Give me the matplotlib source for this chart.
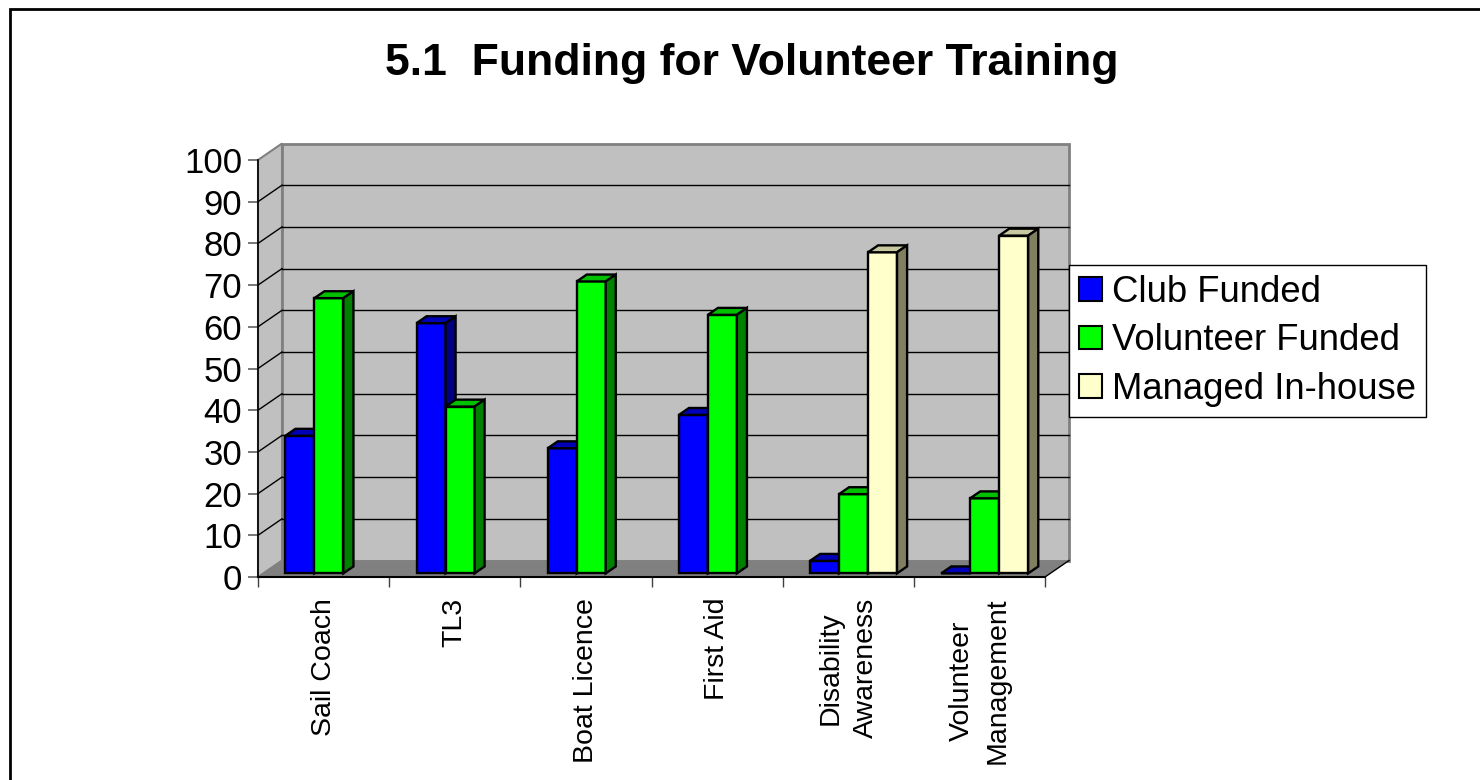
import numpy as np
import matplotlib
matplotlib.use('Agg')
import matplotlib.pyplot as plt
from matplotlib.patches import Polygon, Rectangle, Patch

# ---- data ----
categories = ['Sail Coach', 'TL3', 'Boat Licence', 'First Aid',
              'Disability\nAwareness', 'Volunteer\nManagement']
series_names = ['Club Funded', 'Volunteer Funded', 'Managed In-house']
club_funded = [33, 60, 30, 38, 3, 0]
volunteer_funded = [66, 40, 70, 62, 19, 18]
managed_in_house = [np.nan, np.nan, np.nan, np.nan, 77, 81]
y_ticks = list(range(0, 101, 10))
title = '5.1  Funding for Volunteer Training'

# ---- style ----
front_colors = ['#0000FF', '#00FF00', '#FFFFCC']
top_colors = ['#0000B8', '#00C000', '#C8C8A0']
side_colors = ['#000080', '#008000', '#808060']

plt.rcParams['font.family'] = ['Liberation Sans', 'DejaVu Sans']

W, H = 1480, 780
fig = plt.figure(figsize=(W / 100, H / 100), dpi=100)

# geometry (pixels of the plot frame)
x0_px, x6_px = 258, 1045
y0_px, y100_px = 577, 160
ppx = (x6_px - x0_px) / len(categories)
ppy = (y0_px - y100_px) / 100.0
wall_dx = 24 / ppx
wall_dy = 16.5 / ppy
xlim = (0, len(categories) + wall_dx + 0.01)
ylim = (0, 100 + wall_dy + 0.3)
ax = fig.add_axes([x0_px / W, 1 - y0_px / H,
                   (xlim[1] - xlim[0]) * ppx / W,
                   (ylim[1] - ylim[0]) * ppy / H])
ax.set_xlim(*xlim)
ax.set_ylim(*ylim)
ax.patch.set_visible(False)

n = len(categories)
# walls
ax.add_patch(Polygon([(0, 0), (wall_dx, wall_dy), (wall_dx, 100 + wall_dy), (0, 100)],
                     closed=True, facecolor='#C0C0C0', edgecolor='#808080', lw=1.5,
                     zorder=0.5, clip_on=False))
ax.add_patch(Polygon([(wall_dx, wall_dy), (n + wall_dx, wall_dy), (n + wall_dx, 100 + wall_dy),
                      (wall_dx, 100 + wall_dy)],
                     closed=True, facecolor='#C0C0C0', edgecolor='#808080', lw=2,
                     zorder=0.5, clip_on=False))
ax.add_patch(Polygon([(0, 0), (n, 0), (n + wall_dx, wall_dy), (wall_dx, wall_dy)],
                     closed=True, facecolor='#808080', edgecolor='none',
                     zorder=0.6, clip_on=False))
ax.plot([n, n + wall_dx], [0, wall_dy], color='black', lw=1, zorder=0.7, clip_on=False)
for v in y_ticks[1:-1]:
    ax.plot([wall_dx, n + wall_dx], [v + wall_dy, v + wall_dy], color='black', lw=1,
            zorder=0.7, clip_on=False)
    ax.plot([0, wall_dx], [v, v + wall_dy], color='black', lw=1, zorder=0.7, clip_on=False)

# bars
bar_w = 29 / ppx
f_front = 0.22
f_depth = 0.42
fx, fy = f_front * wall_dx, f_front * wall_dy
bdx, bdy = f_depth * wall_dx, f_depth * wall_dy
x_centers = np.arange(n) + 0.5
all_series = [club_funded, volunteer_funded, managed_in_house]
for j, vals in enumerate(all_series):
    z = 3 + j
    lefts = x_centers - 1.5 * bar_w + fx + j * bar_w
    vals = np.array(vals, dtype=float)
    mask = ~np.isnan(vals)
    ax.bar(lefts[mask], vals[mask], width=bar_w, bottom=fy, align='edge',
           color=front_colors[j], edgecolor='black', lw=1.7, zorder=z, clip_on=False)
    for L, h in zip(lefts[mask], vals[mask]):
        top = fy + h
        ax.add_patch(Polygon([(L, top), (L + bar_w, top), (L + bar_w + bdx, top + bdy),
                              (L + bdx, top + bdy)], closed=True,
                             facecolor=top_colors[j], edgecolor='black', lw=1.7,
                             zorder=z, clip_on=False))
        if h > 0:
            ax.add_patch(Polygon([(L + bar_w, fy), (L + bar_w + bdx, fy + bdy),
                                  (L + bar_w + bdx, top + bdy), (L + bar_w, top)], closed=True,
                                 facecolor=side_colors[j], edgecolor='black', lw=1.7,
                                 zorder=z, clip_on=False))

# axes / ticks
for s in ['top', 'right']:
    ax.spines[s].set_visible(False)
ax.spines['left'].set_bounds(0, 100)
ax.spines['bottom'].set_bounds(0, n)
ax.spines['left'].set_color('black')
ax.spines['bottom'].set_color('black')
ax.spines['left'].set_linewidth(1.2)
ax.spines['bottom'].set_linewidth(1.5)
ax.spines['left'].set_zorder(2)
ax.spines['bottom'].set_zorder(2)

ax.set_yticks(y_ticks)
ax.set_yticklabels([str(v) for v in y_ticks])
ax.tick_params(axis='y', length=7.5, width=1.2, color='#606060', labelsize=25, pad=4)
ax.set_xticks(np.arange(n + 1))
ax.set_xticklabels([])
ax.tick_params(axis='x', which='major', length=7.5, width=1, color='#404040')
ax.set_xticks(x_centers, minor=True)
ax.set_xticklabels(categories, minor=True, rotation=90, fontsize=20.5, linespacing=1.5)
ax.tick_params(axis='x', which='minor', length=0, pad=15)

# legend
handles = [Patch(facecolor=front_colors[j], edgecolor='black', lw=1.5) for j in range(3)]
fig.legend(handles=handles, labels=series_names, loc='upper left',
           bbox_to_anchor=(1069 / W, 1 - 265 / H), fontsize=26.3, frameon=True,
           fancybox=False, shadow=False, edgecolor='black', framealpha=1,
           handlelength=0.62, handleheight=0.62, handletextpad=0.28,
           labelspacing=0.37, borderpad=0.27, borderaxespad=0)

# title
fig.text(752 / W, 1 - 75 / H, title, ha='center', va='baseline',
         fontsize=32, fontweight='bold')

# outer border
fig.add_artist(Rectangle((10 / W, -0.1), 2, 1 - 9 / H + 0.1, transform=fig.transFigure,
                         fill=False, edgecolor='black', lw=2))

fig.savefig('out.png', dpi=100)
